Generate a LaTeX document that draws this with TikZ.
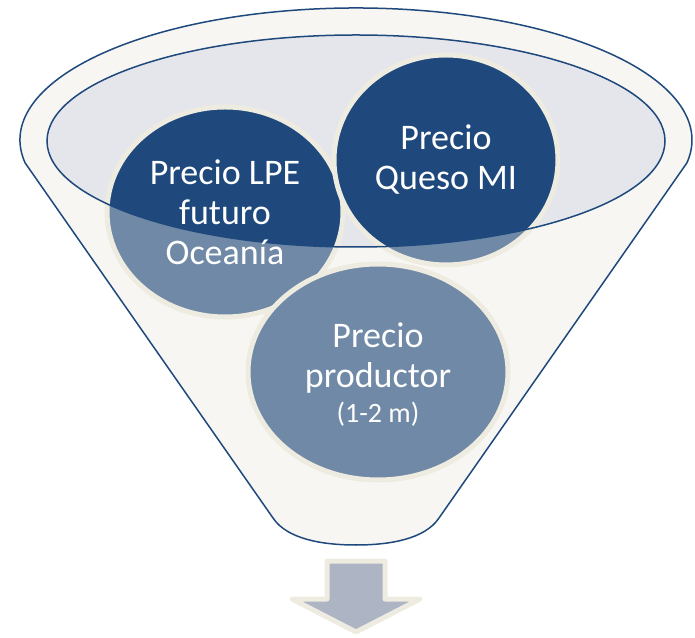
\documentclass[tikz,border=0pt]{standalone}
\usepackage{fontspec}
\setmainfont{Carlito}
\definecolor{navy}{HTML}{1F497D}
\definecolor{lightnavy}{HTML}{6F89A6}
\definecolor{beige}{HTML}{EEECE1}
\definecolor{funnelfill}{HTML}{F7F6F2}
\definecolor{ellfill}{HTML}{E4E6EB}
\definecolor{arrowfill}{HTML}{ADB4C4}
\newcommand\mybubble[3]{%
  \fill[lightnavy] #1 ellipse [x radius=#2, y radius=#3];
  \begin{scope}
    \clip (356,496) ellipse [x radius=309, y radius=106];
    \fill[navy] #1 ellipse [x radius=#2, y radius=#3];
  \end{scope}
  \draw[bubbleborder] #1 ellipse [x radius=#2, y radius=#3];
}
\begin{document}
\begin{tikzpicture}[x=1pt,y=1pt,
  outline/.style={draw=navy, line width=1.5pt},
  bubbleborder/.style={draw=beige, line width=5pt},
  bubbletext/.style={text=white, align=center, font=\fontsize{36}{40}\selectfont}]
\useasboundingbox (0,0) rectangle (695,637);
% funnel body
\filldraw[outline, fill=funnelfill] (25.1,474.1)
  arc[start angle=190, end angle=-10, x radius=336, y radius=132]
  -- (439,119) .. controls (425,98) and (390,92) .. (356,92)
  .. controls (322,92) and (287,98) .. (273,119) -- cycle;
% inner ellipse fill
\fill[ellfill] (356,496) ellipse [x radius=309, y radius=106];
% bubbles
\mybubble{(225,425)}{118}{105}
\mybubble{(446,477)}{112}{105}
\mybubble{(378,265)}{130}{108}
% inner ellipse outline
\draw[outline] (356,496) ellipse [x radius=309, y radius=106];
% texts
\node[bubbletext] (t1) at (225,425) {Precio LPE\\futuro\\Oceanía};
\node[bubbletext] (t2) at (446,477) {Precio\\Queso MI};
\node[bubbletext] (t3) at (378,262) {Precio\\productor\\[-5pt]{\fontsize{28}{32}\selectfont (1-2 m)}};
% arrow
\filldraw[draw=beige, fill=arrowfill, line width=5pt, line join=round]
  (327,76) -- (385,76) -- (385,38) -- (420,38) -- (356,5) -- (292,38) -- (327,38) -- cycle;
\end{tikzpicture}
\end{document}
